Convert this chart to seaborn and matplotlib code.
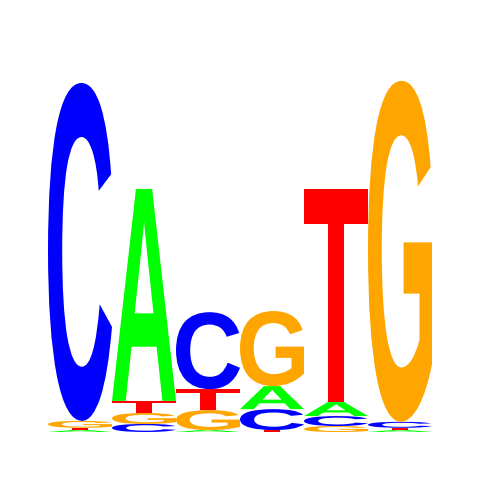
import numpy as np
import pandas as pd
import matplotlib
matplotlib.use('Agg')
import matplotlib.pyplot as plt
import seaborn as sns
from matplotlib.textpath import TextPath
from matplotlib.patches import PathPatch
from matplotlib.font_manager import FontProperties
from matplotlib.transforms import Affine2D

# information content (bits) of each base at each of the 6 positions
positions = [1, 2, 3, 4, 5, 6]
bits_A = [0.010, 1.104, 0.010, 0.120, 0.073, 0.010]
bits_C = [1.760, 0.042, 0.401, 0.109, 0.052, 0.031]
bits_G = [0.036, 0.057, 0.104, 0.391, 0.031, 1.776]
bits_T = [0.012, 0.063, 0.109, 0.010, 1.109, 0.012]

base_colors = {'A': '#00ff00', 'C': '#0000ff', 'G': '#ffa500', 'T': '#ff0000'}

df = pd.DataFrame({'A': bits_A, 'C': bits_C, 'G': bits_G, 'T': bits_T}, index=positions)

sns.set_style('white')
font = FontProperties(family=['Liberation Sans', 'DejaVu Sans'], weight='bold')

fig = plt.figure(figsize=(4.8, 4.8), dpi=100)
ax = fig.add_axes([0.1, 0.1, 0.8, 0.8])


def draw_letter(ax, letter, x, y0, height, color):
    # stretch the glyph so it fills one column and the given height
    path = TextPath((0, 0), letter, size=1, prop=font)
    box = path.get_extents()
    tr = (Affine2D()
          .translate(-box.x0, -box.y0)
          .scale(1.0 / box.width, height / box.height)
          .translate(x - 0.5, y0))
    ax.add_patch(PathPatch(tr.transform_path(path), facecolor=color,
                           edgecolor='none', linewidth=0))


for pos, row in df.iterrows():
    # smallest letters at the bottom of each stack
    y = 0.0
    for letter, h in row.sort_values().items():
        draw_letter(ax, letter, pos, y, h, base_colors[letter])
        y += h

ax.set_xlim(0.5, 6.5)
ax.set_ylim(0, 2)
ax.axis('off')

fig.savefig('out.png', dpi=100, facecolor='white')
